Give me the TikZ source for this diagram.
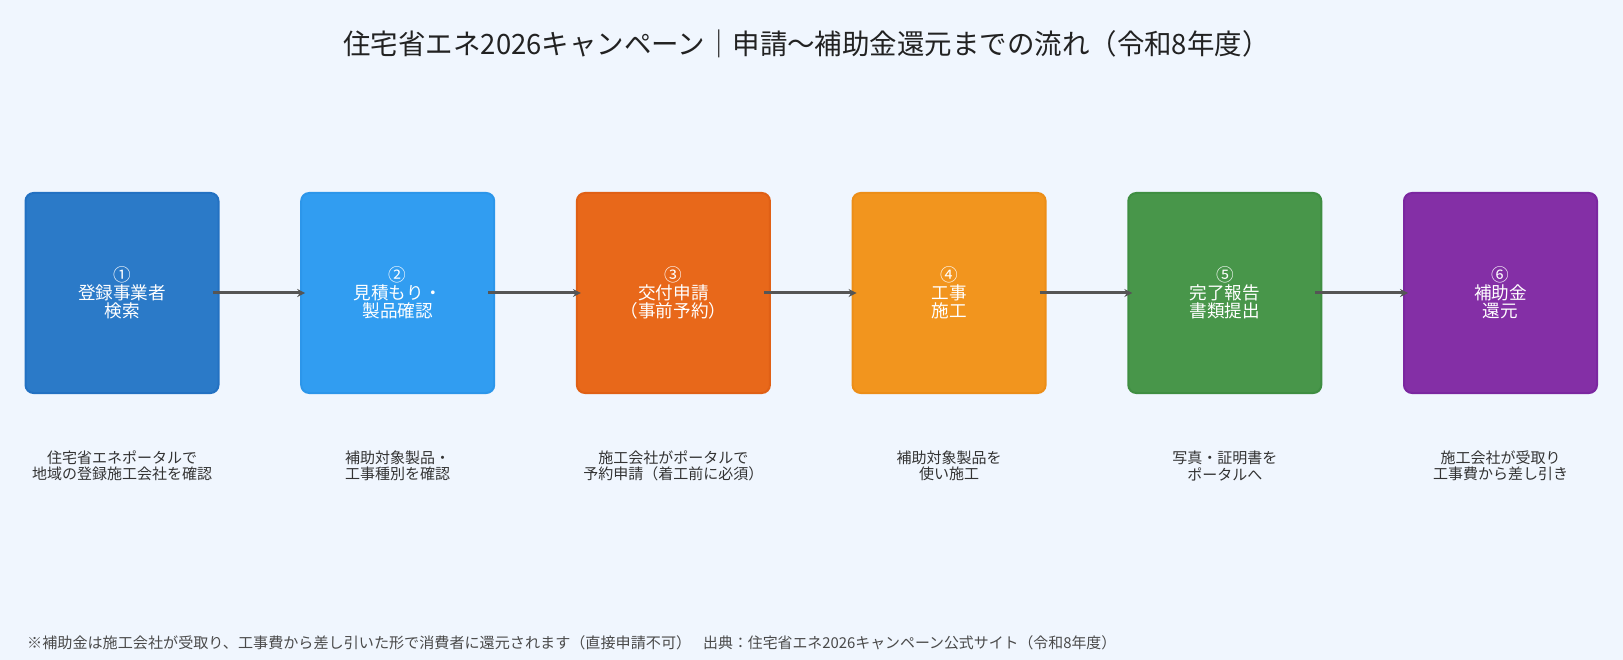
\documentclass[tikz,border=0pt]{standalone}
\usepackage{fontspec}
\usepackage{graphicx}
\setmainfont{Noto Sans CJK JP}
\usetikzlibrary{arrows.meta}
\definecolor{bg}{HTML}{F0F6FE}
\definecolor{titlec}{HTML}{222222}
\definecolor{descc}{HTML}{333333}
\definecolor{footc}{HTML}{4A4A4A}
\definecolor{arrc}{HTML}{555555}
\definecolor{cA}{HTML}{2B7AC8}\definecolor{dA}{HTML}{2371C2}
\definecolor{cB}{HTML}{319DF1}\definecolor{dB}{HTML}{2C96EA}
\definecolor{cC}{HTML}{E8681A}\definecolor{dC}{HTML}{E06015}
\definecolor{cD}{HTML}{F2951E}\definecolor{dD}{HTML}{EC8E18}
\definecolor{cE}{HTML}{48964A}\definecolor{dE}{HTML}{3F8E42}
\definecolor{cF}{HTML}{842FA6}\definecolor{dF}{HTML}{7B27A0}
\tikzset{
  stepbox/.style={draw, line width=2pt, rounded corners=8pt, minimum width=193pt, minimum height=200pt, inner sep=0pt,
    text=white, align=center, font=\fontsize{17.6}{17.8}\selectfont},
  desc/.style={text=descc, align=center, font=\fontsize{15}{16.5}\selectfont, inner sep=0pt},
  flow/.style={draw=arrc, line width=3pt, -{Stealth[length=8pt,width=8pt]}},
}
\begin{document}
\begin{tikzpicture}[x=1pt,y=-1pt]
\fill[bg] (0,0) rectangle (1623,660);
\useasboundingbox (0,0) rectangle (1623,660);
\node[text=titlec, font=\fontsize{28}{30}\selectfont, inner sep=0pt] (title) at (806.5,43.5) {\resizebox{926pt}{\height}{住宅省エネ2026キャンペーン｜申請〜補助金還元までの流れ（令和8年度）}};
\node[stepbox, fill=cA, draw=dA] (b1) at (122,293) {①\\登録事業者\\検索};
\node[stepbox, fill=cB, draw=dB] (b2) at (397.7,293) {②\\見積もり・\\製品確認};
\node[stepbox, fill=cC, draw=dC] (b3) at (673.4,293) {③\\交付申請\\（事前予約）};
\node[stepbox, fill=cD, draw=dD] (b4) at (949.1,293) {④\\工事\\施工};
\node[stepbox, fill=cE, draw=dE] (b5) at (1224.8,293) {⑤\\完了報告\\書類提出};
\node[stepbox, fill=cF, draw=dF] (b6) at (1500.5,293) {⑥\\補助金\\還元};
\foreach \a/\b in {b1/b2,b2/b3,b3/b4,b4/b5,b5/b6}
  \draw[flow] ([xshift=-7pt]\a.east) -- ([xshift=5pt]\b.west);
\node[desc] (d1) at (122,466) {住宅省エネポータルで\\地域の登録施工会社を確認};
\node[desc] (d2) at (397.7,466) {補助対象製品・\\工事種別を確認};
\node[desc] (d3) at (673.4,466) {施工会社がポータルで\\予約申請（着工前に必須）};
\node[desc] (d4) at (949.1,466) {補助対象製品を\\使い施工};
\node[desc] (d5) at (1224.8,466) {写真・証明書を\\ポータルへ};
\node[desc] (d6) at (1500.5,466) {施工会社が受取り\\工事費から差し引き};
\node[text=footc, font=\fontsize{15}{16}\selectfont, inner sep=0pt, anchor=west] (foot) at (27,643) {\resizebox{664pt}{\height}{※補助金は施工会社が受取り、工事費から差し引いた形で消費者に還元されます（直接申請不可）}\hspace{12pt}\resizebox{413pt}{\height}{出典：住宅省エネ2026キャンペーン公式サイト（令和8年度）}};
\end{tikzpicture}
\end{document}
